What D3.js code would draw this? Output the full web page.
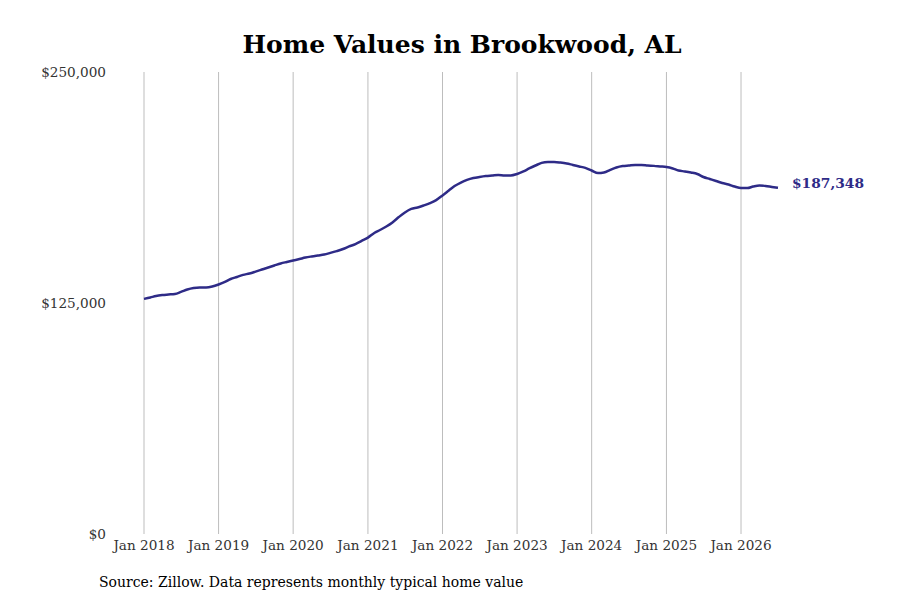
<!DOCTYPE html>
<html>
<head>
<meta charset="utf-8">
<script src="https://cdn.jsdelivr.net/npm/d3@7"></script>
<style>
  body { margin: 0; background: #fff; }
  text { font-family: "DejaVu Serif", serif; }
</style>
</head>
<body>
<div id="chart"></div>
<script>
// Valores mensais estimados (Jan 2018 - Jul 2026)
var startYear = 2018, startMonth = 0;
var values = [
  127200, 128000, 128800, 129300, 129600, 129900, 131000, 132300, 133100, 133400, 133400, 133900,
  135000, 136400, 138000, 139100, 140200, 141000, 142000, 143100, 144200, 145300, 146400, 147200,
  148000, 148800, 149600, 150200, 150700, 151200, 152100, 153100, 154200, 155600, 156900, 158600,
  160400, 162900, 164500, 166400, 168600, 171500, 174000, 175900, 176700, 177800, 179100, 180700,
  183200, 185900, 188300, 190200, 191600, 192600, 193200, 193700, 194000, 194300, 194000, 194000,
  194800, 196200, 197800, 199400, 200800, 201300, 201300, 201000, 200500, 199700, 198900, 198100,
  196700, 195300, 195600, 197000, 198300, 199100, 199400, 199700, 199700, 199400, 199200, 198900,
  198600, 197800, 196700, 196200, 195600, 194800, 193200, 192100, 191000, 189900, 189100, 188000,
  187200, 187200, 188000, 188600, 188300, 187800, 187348
];
var yTicks = [0, 125000, 250000];
var xTickYears = [2018, 2019, 2020, 2021, 2022, 2023, 2024, 2025, 2026];
var endLabel = "$187,348";

var data = values.map(function (v, i) {
  return { date: new Date(startYear, startMonth + i, 1), value: v };
});

function createLineChart() {
  var width = 900, height = 600;
  var margin = {top: 72, right: 122, bottom: 66, left: 144};
  var color = "#2e2b87";

  var svg = d3.select("#chart")
    .append("svg")
      .attr("width", width)
      .attr("height", height);

  var x = d3.scaleTime()
    .domain([new Date(2018, 0, 1), new Date(2026, 6, 1)])
    .range([margin.left, width - margin.right]);

  var y = d3.scaleLinear()
    .domain([0, 250000])
    .range([height - margin.bottom, margin.top]);

  // Linhas verticais de grade
  var xTicks = xTickYears.map(function (yr) { return new Date(yr, 0, 1); });
  svg.append("g")
    .selectAll("line")
    .data(xTicks)
    .enter()
    .append("line")
      .attr("x1", function (d) { return x(d); })
      .attr("x2", function (d) { return x(d); })
      .attr("y1", y(250000))
      .attr("y2", y(0))
      .style("stroke", "#bdbdbd")
      .style("stroke-width", 1);

  // Rótulos do eixo X
  svg.append("g")
    .selectAll("text")
    .data(xTicks)
    .enter()
    .append("text")
      .attr("x", function (d) { return x(d); })
      .attr("y", y(0) + 16)
      .attr("text-anchor", "middle")
      .style("font-size", "13.6px")
      .style("fill", "#333")
      .text(d3.timeFormat("Jan %Y"));

  // Rótulos do eixo Y
  svg.append("g")
    .selectAll("text")
    .data(yTicks)
    .enter()
    .append("text")
      .attr("x", 106)
      .attr("y", function (d) { return y(d) + 5; })
      .attr("text-anchor", "end")
      .style("font-size", "13.6px")
      .style("fill", "#333")
      .text(function (d) { return "$" + d3.format(",")(d); });

  // Linha
  var line = d3.line()
    .x(function (d) { return x(d.date); })
    .y(function (d) { return y(d.value); })
    .curve(d3.curveMonotoneX);

  svg.append("path")
    .datum(data)
    .attr("d", line)
    .style("fill", "none")
    .style("stroke", color)
    .style("stroke-width", 2.5);

  var last = data[data.length - 1];
  svg.append("text")
    .attr("x", x(last.date) + 14)
    .attr("y", y(last.value))
    .style("font-size", "13.8px")
    .style("font-weight", "bold")
    .style("fill", color)
    .text(endLabel);

  // Título
  svg.append("text")
    .attr("x", 462)
    .attr("y", 53)
    .attr("text-anchor", "middle")
    .style("font-size", "25px")
    .style("font-weight", "bold")
    .style("fill", "#000")
    .text("Home Values in Brookwood, AL");

  // Fonte
  svg.append("text")
    .attr("x", 99)
    .attr("y", 587)
    .style("font-size", "14px")
    .style("fill", "#000")
    .text("Source: Zillow. Data represents monthly typical home value");
}

document.addEventListener("DOMContentLoaded", function () {
  createLineChart();
});
</script>
</body>
</html>
